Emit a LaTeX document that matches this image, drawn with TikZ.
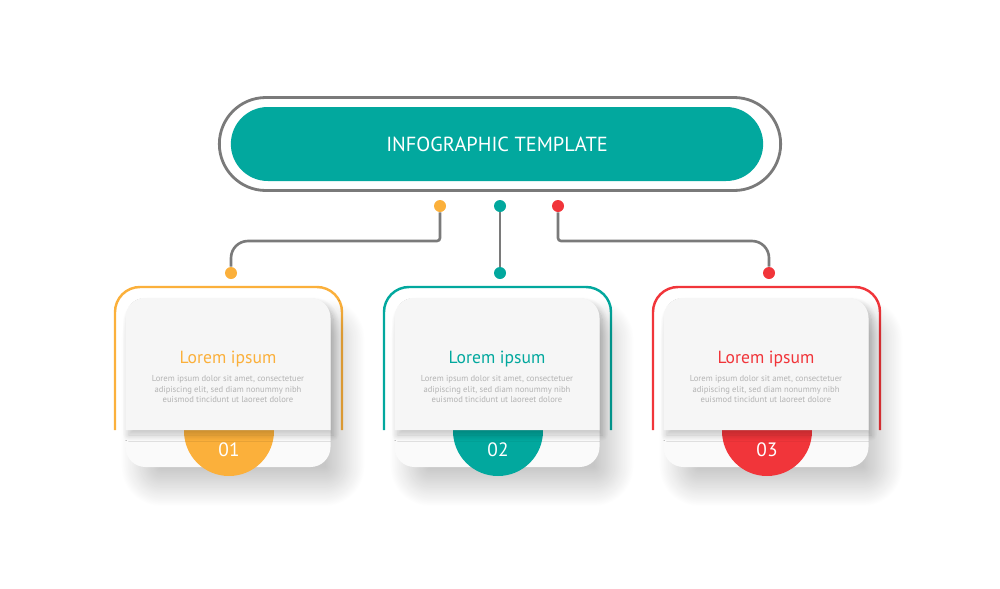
\documentclass[tikz,border=0pt]{standalone}
\usepackage{fontspec}
\setmainfont{PT Sans}
\usetikzlibrary{positioning,shapes.misc,shadows.blur}
\definecolor{tealc}{HTML}{02A89E}
\definecolor{orangec}{HTML}{FBB03B}
\definecolor{redc}{HTML}{F1353A}
\definecolor{wiregray}{HTML}{7A7A7A}
\definecolor{bodygray}{HTML}{B3B3B3}
\tikzset{dotc/.style={circle,fill=#1,inner sep=0pt,minimum size=2.4mm},
	 wire/.style={draw=wiregray,line width=1.5pt},
	 cframe/.style={draw=#1,line width=1.4pt,rounded corners=5mm},
	 basecard/.style={fill=white!98!black,rounded corners=4mm,minimum width=41mm,minimum height=33.8mm,
	   blur shadow={shadow xshift=3mm,shadow yshift=-4mm,shadow blur radius=4mm,shadow blur steps=30,shadow opacity=22}},
	 topcard/.style={fill=white!96.5!black,
	   blur shadow={shadow xshift=0.6mm,shadow yshift=-1mm,shadow blur radius=1.2mm,shadow blur steps=15,shadow opacity=22}},
	 numdisc/.style={circle,fill=#1,inner sep=0pt,minimum size=18mm},
	 head/.style={text=#1,font=\fontsize{10}{12}\selectfont},
	 body/.style={text=bodygray,align=center,font=\fontsize{4.9}{6}\selectfont},
	 numtext/.style={text=white,font=\fontsize{11}{13}\selectfont}
	 }

\begin{document}
\begin{tikzpicture}[x=0.2mm,y=-0.2mm]
	\path[use as bounding box] (0,0) rectangle (1000,588);
	% top title
	\node[rounded rectangle,draw=wiregray,line width=1.6pt,minimum width=114.6mm,minimum height=18.6mm] (frm) at (500,144) {};
	\node[rounded rectangle,fill=tealc,text=white,font=\fontsize{11.6}{13}\selectfont,
	      minimum width=108.8mm,minimum height=14.8mm] (title) at (497,144) {INFOGRAPHIC TEMPLATE};
	% connectors
	\node[dotc=orangec] (u1) at (440,206) {};
	\node[dotc=tealc] (u2) at (500,206) {};
	\node[dotc=redc] (u3) at (558,206) {};
	\node[dotc=orangec] (v1) at (231,273) {};
	\node[dotc=tealc] (v2) at (500,273) {};
	\node[dotc=redc] (v3) at (769,273) {};
	\coordinate (bend) at (500,241);
	\draw[wire,rounded corners=0.6mm] (u1) -- (u1 |- bend) [rounded corners=3.4mm] -- (v1 |- bend) -- (v1);
	\draw[wire] (u2) -- (v2);
	\draw[wire,rounded corners=0.6mm] (u3) -- (u3 |- bend) [rounded corners=3.4mm] -- (v3 |- bend) -- (v3);
	% cards
	\foreach \i/\x/\c in {1/228/orangec,2/497/tealc,3/766/redc}{
	  \draw[cframe=\c] (\x-113,430) -- (\x-113,287) -- (\x+114,287) -- (\x+114,430);
	  \node[basecard] (base\i) at (\x,382.5) {};
	  \node[numdisc=\c] (disc\i) at (\x+1,431) {};
	  \fill[topcard] (\x-102.5,430) -- (\x-102.5,318) arc[start angle=180,end angle=270,radius=20]
	    -- (\x+82.5,298) arc[start angle=270,end angle=360,radius=20] -- (\x+102.5,430) -- cycle;
	  \node[head=\c] (head\i) at (\x,359.5) {Lorem ipsum};
	  \node[body] (txt\i) at (\x,389) {Lorem ipsum dolor sit amet, consectetuer\\adipiscing elit, sed diam nonummy nibh\\euismod tincidunt ut laoreet dolore};
	  \node[numtext] (num\i) at (\x+1,450) {0\i};
	}
\end{tikzpicture}
\end{document}
